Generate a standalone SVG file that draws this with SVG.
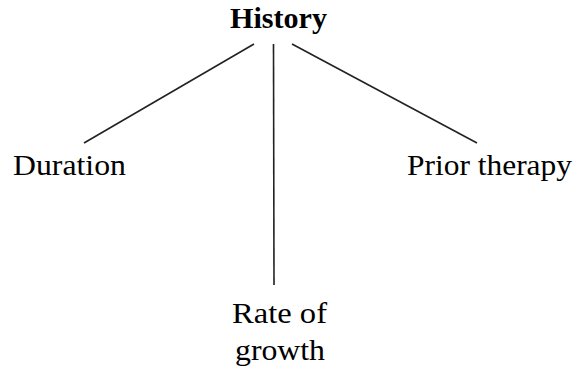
<svg xmlns="http://www.w3.org/2000/svg" width="575" height="368" viewBox="0 0 575 368">
<style>
text{font-family:'Liberation Serif','DejaVu Serif',serif;fill:#000;font-size:29px}
.t{font-weight:bold}
.c line{stroke:#222;stroke-width:1.6}
</style>
<rect width="575" height="368" fill="#fff"/>
<g class="c" id="connectors">
<line x1="254" y1="44" x2="84" y2="143"/>
<line x1="273.5" y1="44" x2="274" y2="285"/>
<line x1="292" y1="44" x2="477" y2="143"/>
</g>
<g id="history"><text class="t" x="230" y="28" textLength="97" lengthAdjust="spacingAndGlyphs">History</text></g>
<g id="duration"><text x="13" y="175" textLength="113" lengthAdjust="spacingAndGlyphs">Duration</text></g>
<g id="prior"><text x="407" y="175" textLength="165" lengthAdjust="spacingAndGlyphs">Prior therapy</text></g>
<g id="rate"><text x="232" y="323" textLength="95" lengthAdjust="spacingAndGlyphs">Rate of</text><text x="235" y="360" textLength="90" lengthAdjust="spacingAndGlyphs">growth</text></g>
</svg>
